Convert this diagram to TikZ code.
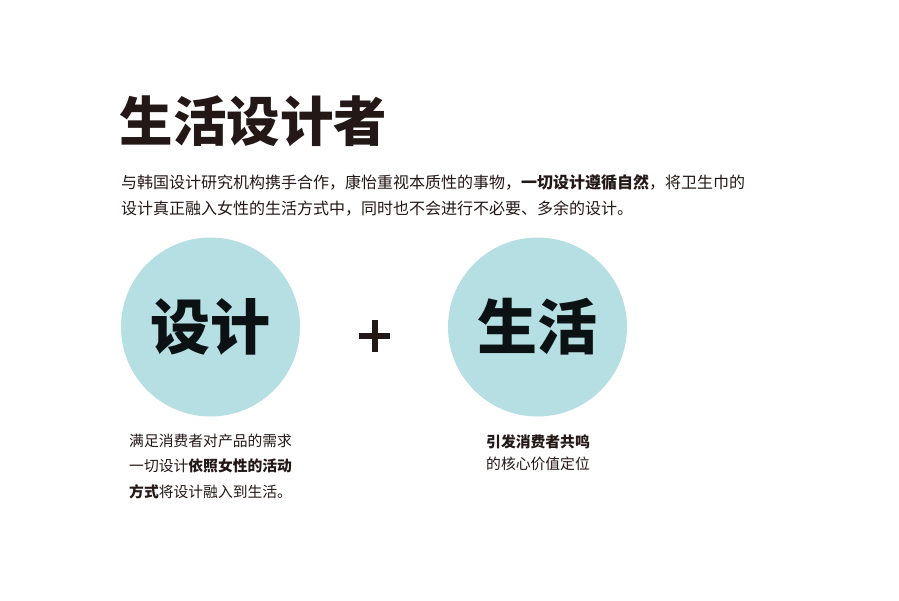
\documentclass[tikz,border=0pt]{standalone}
\usepackage{fontspec}
\setmainfont{Noto Sans CJK SC}
\newfontfamily\cjkblack{Noto Sans CJK SC Black}
\definecolor{ink}{HTML}{231815}
\definecolor{circ}{HTML}{B5DFE3}
\definecolor{dark}{HTML}{0C1214}
\tikzset{
  line/.style={anchor=west,inner sep=0pt,text=ink,font=\fontsize{16}{16}\selectfont},
  small/.style={anchor=west,inner sep=0pt,text=ink,font=\fontsize{14.8}{14.8}\selectfont},
  bubble/.style={circle,fill=circ,minimum size=179pt,inner sep=0pt,text=dark,font=\cjkblack\fontsize{60}{60}\selectfont},
}
\begin{document}
\begin{tikzpicture}[x=1pt,y=-1pt]
\useasboundingbox (0,0) rectangle (899,600);
\node[anchor=west,inner sep=0pt,text=ink,font=\cjkblack\fontsize{53.5}{53.5}\selectfont] (title) at (119.5,121) {生活设计者};
\node[line] (l1) at (121,182) {与韩国设计研究机构携手合作，康怡重视本质性的事物，\textbf{一切设计遵循自然}，将卫生巾的};
\node[line] (l2) at (121,209) {设计真正融入女性的生活方式中，同时也不会进行不必要、多余的设计。};
\node[bubble] (c1) at (210.5,327) {设计};
\node[bubble] (c2) at (537.5,327) {生活};
\fill[ink] (359,332.5) rectangle (390,338.5);
\fill[ink] (371.5,320) rectangle (377.5,351.5);
\node[small] (a1) at (129,441) {满足消费者对产品的需求};
\node[small] (a2) at (129,466) {一切设计\textbf{依照女性的活动}};
\node[small] (a3) at (129,492) {\textbf{方式}将设计融入到生活。};
\node[small] (b1) at (486,442) {\textbf{引发消费者共鸣}};
\node[small] (b2) at (486,464) {的核心价值定位};
\end{tikzpicture}
\end{document}
